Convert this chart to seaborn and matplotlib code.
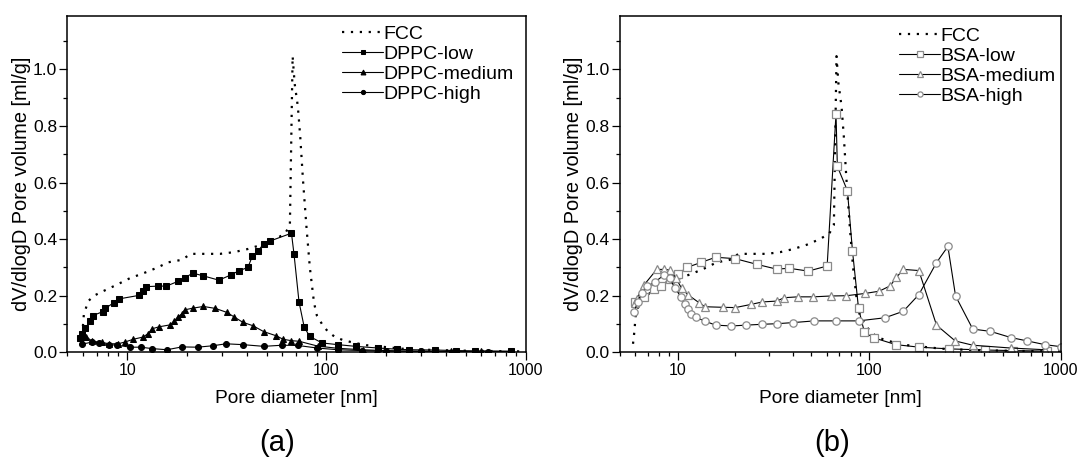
#%% import libraries
import numpy as np
import seaborn as sns
import matplotlib
matplotlib.use('Agg')
import matplotlib.pyplot as plt
from matplotlib.ticker import FixedLocator, NullFormatter, MultipleLocator, FormatStrFormatter

#%% data (pore diameter [nm], dV/dlogD [ml/g])
fcc_d = [5.85, 5.95, 6.04, 6.34, 6.79, 7.5, 8.8, 10.3, 12.1, 14.2, 16.0, 18.8, 20.8, 24.9,
         29.2, 34.3, 40.2, 47.2, 55.3, 62.0, 65.5, 67.6, 69.2, 71.8, 73.8, 76.2, 79.3,
         82.5, 86.6, 89.5, 95.5, 102, 110, 121, 139, 159, 208, 236, 300, 400, 550, 750, 1000]
fcc_v = [0.03, 0.075, 0.132, 0.18, 0.20, 0.215, 0.238, 0.262, 0.28, 0.30, 0.318, 0.327, 0.348, 0.348,
         0.348, 0.354, 0.365, 0.38, 0.40, 0.42, 0.45, 1.047, 0.95, 0.87, 0.764, 0.61, 0.445,
         0.30, 0.175, 0.13, 0.097, 0.072, 0.055, 0.043, 0.033, 0.025, 0.017, 0.013, 0.0095, 0.007, 0.005, 0.004, 0.003]

dppc_low_d = [5.81, 5.94, 6.15, 6.51, 6.72, 7.54, 7.75, 8.52, 9.12, 11.4, 12.0, 12.4, 14.3, 15.7,
              18.0, 19.5, 21.3, 24.1, 28.8, 33.0, 36.3, 40.3, 42.4, 45.3, 48.4, 51.9, 66.7, 68.7,
              72.8, 77.3, 82.4, 95.0, 114, 140, 182, 225, 260, 350, 450, 560, 850]
dppc_low_v = [0.050, 0.065, 0.087, 0.109, 0.130, 0.144, 0.155, 0.175, 0.189, 0.201, 0.217, 0.232, 0.234, 0.234,
              0.251, 0.264, 0.280, 0.270, 0.255, 0.273, 0.288, 0.300, 0.339, 0.358, 0.384, 0.393, 0.421, 0.347,
              0.178, 0.089, 0.056, 0.033, 0.027, 0.021, 0.015, 0.011, 0.009, 0.008, 0.006, 0.005, 0.004]

dppc_med_d = [5.95, 6.22, 6.64, 7.48, 8.05, 8.97, 9.69, 10.7, 12.0, 12.7, 13.3, 14.4, 16.4, 17.2,
              18.0, 18.8, 19.4, 21.3, 24.1, 27.7, 31.6, 34.2, 38.0, 42.7, 48.4, 56.1, 60.5, 66.7,
              72.8, 90.2, 114, 152, 180, 230, 300, 420, 600, 850]
dppc_med_v = [0.058, 0.055, 0.039, 0.035, 0.030, 0.030, 0.036, 0.046, 0.054, 0.066, 0.083, 0.090, 0.097, 0.111,
              0.126, 0.136, 0.150, 0.156, 0.162, 0.155, 0.141, 0.126, 0.106, 0.094, 0.073, 0.058, 0.046, 0.041,
              0.039, 0.022, 0.014, 0.009, 0.007, 0.005, 0.004, 0.003, 0.003, 0.002]

dppc_high_d = [5.94, 6.64, 7.19, 8.06, 8.91, 10.3, 11.7, 13.3, 15.8, 18.8, 22.5, 26.8, 31.3, 38.0,
               48.4, 60.1, 72.0, 90, 114, 150, 200, 300, 450, 650, 850]
dppc_high_v = [0.029, 0.036, 0.033, 0.027, 0.025, 0.018, 0.018, 0.013, 0.009, 0.019, 0.018, 0.023, 0.030, 0.027,
               0.021, 0.025, 0.024, 0.015, 0.009, 0.006, 0.004, 0.003, 0.002, 0.002, 0.002]

bsa_low_d = [6.0, 6.64, 7.53, 8.22, 9.08, 10.0, 11.2, 13.3, 15.8, 20.0, 25.9, 32.9, 38.3, 48.1,
             60.4, 67.2, 68.3, 77.1, 81.9, 88.1, 94.6, 106, 138, 183, 262, 405, 564, 853]
bsa_low_v = [0.178, 0.194, 0.222, 0.236, 0.258, 0.276, 0.300, 0.318, 0.336, 0.331, 0.311, 0.294, 0.297, 0.287,
             0.305, 0.844, 0.657, 0.571, 0.359, 0.155, 0.070, 0.051, 0.027, 0.018, 0.012, 0.008, 0.006, 0.004]

bsa_med_d = [6.0, 6.12, 6.68, 7.78, 8.49, 9.12, 9.8, 10.5, 11.3, 12.9, 13.9, 17.3, 20.0, 24.1,
             27.7, 32.9, 36.1, 42.4, 51.0, 63.1, 76.2, 95.3, 113, 129, 139, 151, 182, 225,
             282, 348, 551, 830]
bsa_med_v = [0.175, 0.190, 0.238, 0.293, 0.293, 0.291, 0.262, 0.226, 0.204, 0.176, 0.161, 0.159, 0.158, 0.169,
             0.178, 0.181, 0.193, 0.196, 0.196, 0.199, 0.200, 0.208, 0.216, 0.235, 0.265, 0.293, 0.289, 0.096,
             0.040, 0.025, 0.015, 0.009]

bsa_high_d = [5.93, 6.18, 6.48, 6.96, 7.63, 8.49, 9.08, 9.65, 10.4, 10.9, 11.3, 11.7, 12.5, 13.9,
              15.8, 19.1, 22.8, 27.7, 32.9, 40.2, 51.7, 67.0, 88.1, 121, 151, 182, 225, 258,
              283, 348, 430, 551, 672, 828, 1000]
bsa_high_v = [0.141, 0.179, 0.208, 0.234, 0.249, 0.273, 0.262, 0.229, 0.196, 0.169, 0.152, 0.137, 0.123, 0.110,
              0.096, 0.093, 0.096, 0.099, 0.101, 0.105, 0.111, 0.111, 0.111, 0.122, 0.145, 0.204, 0.317, 0.374,
              0.199, 0.082, 0.074, 0.052, 0.040, 0.027, 0.020]

#%% style
sns.set_style('ticks', rc={'axes.edgecolor': 'black', 'xtick.color': 'black', 'ytick.color': 'black',
                           'text.color': 'black', 'axes.labelcolor': 'black'})
plt.rcParams['font.family'] = ['Liberation Sans', 'DejaVu Sans']

fig = plt.figure(figsize=(10.78, 4.59), dpi=100)
ax_a = fig.add_axes([0.0626, 0.2325, 0.4249, 0.7333])
ax_b = fig.add_axes([0.5751, 0.2325, 0.4087, 0.7333])

dots = (0, (1, 3))


def draw(ax, d, v, label, **kw):
    sns.lineplot(x=d, y=v, ax=ax, label=label, estimator=None, sort=False, **kw)


def style_axes(ax):
    ax.set_xscale('log')
    ax.set_xlim(5, 1000)
    ax.set_ylim(0, 1.19)
    ax.xaxis.set_major_locator(FixedLocator([10, 100, 1000]))
    ax.xaxis.set_major_formatter(FormatStrFormatter('%d'))
    minors = [m * 10 ** e for e in range(0, 3) for m in range(2, 10) if 5 <= m * 10 ** e < 1000]
    ax.xaxis.set_minor_locator(FixedLocator(minors))
    ax.xaxis.set_minor_formatter(NullFormatter())
    ax.yaxis.set_major_locator(MultipleLocator(0.2))
    ax.yaxis.set_minor_locator(MultipleLocator(0.1))
    ax.yaxis.set_major_formatter(FormatStrFormatter('%.1f'))
    ax.tick_params(which='major', direction='out', length=5.5, width=0.9, top=False, right=False)
    ax.tick_params(which='minor', direction='out', length=3, width=0.9, top=False, right=False)
    ax.tick_params(axis='x', labelsize=11.5, pad=2.5)
    ax.tick_params(axis='y', labelsize=12.5, pad=2)
    for s in ax.spines.values():
        s.set_visible(True)
        s.set_linewidth(1.1)
        s.set_color('black')
    ax.set_xlabel('Pore diameter [nm]', fontsize=13.8, labelpad=8)
    ax.set_ylabel('dV/dlogD Pore volume [ml/g]', fontsize=14.4, labelpad=1.5)


#%% panel (a)
draw(ax_a, fcc_d, fcc_v, 'FCC', color='black', lw=1.6, linestyle=dots)
draw(ax_a, dppc_low_d, dppc_low_v, 'DPPC-low', color='black', lw=0.8,
     marker='s', markersize=4.3, markeredgecolor='black', markerfacecolor='black')
draw(ax_a, dppc_med_d, dppc_med_v, 'DPPC-medium', color='black', lw=0.8,
     marker='^', markersize=5, markeredgecolor='black', markerfacecolor='black')
draw(ax_a, dppc_high_d, dppc_high_v, 'DPPC-high', color='black', lw=0.8,
     marker='o', markersize=4.3, markeredgecolor='black', markerfacecolor='black')

#%% panel (b)
draw(ax_b, fcc_d, fcc_v, 'FCC', color='black', lw=1.6, linestyle=dots)
open_kw = dict(color='black', lw=0.8, markersize=5.3, markerfacecolor='white',
               markeredgecolor='#8a8a8a', markeredgewidth=0.9)
draw(ax_b, bsa_low_d, bsa_low_v, 'BSA-low', marker='s', **open_kw)
draw(ax_b, bsa_med_d, bsa_med_v, 'BSA-medium', marker='^', **open_kw)
draw(ax_b, bsa_high_d, bsa_high_v, 'BSA-high', marker='o', **open_kw)

for ax, x0, y0 in [(ax_a, 0.60, 0.972), (ax_b, 0.634, 0.966)]:
    style_axes(ax)
    ax.legend(loc='upper left', bbox_to_anchor=(x0, y0), frameon=False, borderpad=0,
              borderaxespad=0, handlelength=2.1, handletextpad=0.03, labelspacing=0.12,
              fontsize=14, markerscale=0.7)

fig.text(277 / 1078, 1 - 443 / 459, '(a)', ha='center', va='center', fontsize=21)
fig.text(832 / 1078, 1 - 443 / 459, '(b)', ha='center', va='center', fontsize=21)

fig.savefig('out.png', dpi=100)
